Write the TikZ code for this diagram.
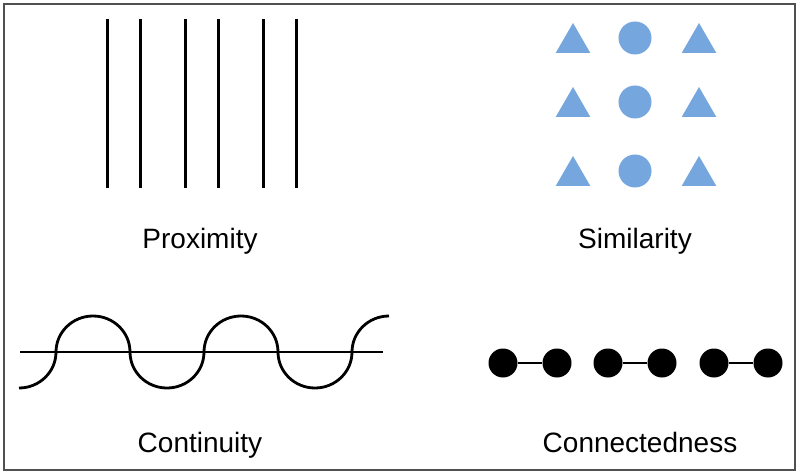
\documentclass[tikz,border=0pt]{standalone}
\usepackage{fontspec}
\setmainfont{Liberation Sans}
\usetikzlibrary{shapes.geometric}
\definecolor{shapeblue}{RGB}{118,166,222}
\definecolor{framegray}{RGB}{80,80,80}
\begin{document}
\begin{tikzpicture}[x=1pt,y=-1pt,
  bar/.style={line width=3pt,black},
  lbl/.style={font=\fontsize{28}{32}\selectfont,anchor=base,inner sep=0pt},
  tri/.style={regular polygon,regular polygon sides=3,fill=shapeblue,draw=none,minimum size=40pt,inner sep=0pt},
  circ/.style={circle,fill=shapeblue,draw=none,minimum size=33pt,inner sep=0pt},
  dot/.style={circle,fill=black,draw=none,minimum size=29pt,inner sep=0pt},
  wave/.style={line width=2.8pt,black}]
\useasboundingbox (0,0) rectangle (800,473);
\fill[white] (0,0) rectangle (800,473);
\draw[framegray,line width=2.5pt] (4,4) rectangle (795,470);
% Proximity
\foreach \i/\x in {1/107,2/140,3/185,4/218,5/263,6/296}{
  \coordinate (t\i) at (\x,19);
  \coordinate (b\i) at (\x,188);
  \draw[bar] (t\i) -- (b\i);
}
\node[lbl] (prox) at (200,248) {Proximity};
% Similarity
\foreach \r/\y/\cy in {1/43/38,2/107/102,3/176/171}{
  \node[tri] (ta\r) at (573,\y) {};
  \node[circ] (c\r) at (635,\cy) {};
  \node[tri] (tb\r) at (699,\y) {};
}
\node[lbl] (sim) at (635,248) {Similarity};
% Continuity
\coordinate (hl) at (20,352);
\coordinate (hr) at (383,352);
\draw[wave] (hl) -- (hr);
\coordinate (ws) at (19,388);
\draw[wave] (ws) arc[start angle=90,end angle=0,x radius=37,y radius=36]
  arc[start angle=180,end angle=360,x radius=37,y radius=36]
  arc[start angle=180,end angle=0,x radius=37,y radius=36]
  arc[start angle=180,end angle=360,x radius=37,y radius=36]
  arc[start angle=180,end angle=0,x radius=37,y radius=36]
  arc[start angle=180,end angle=270,x radius=37,y radius=36];
\node[lbl] (cont) at (200,452) {Continuity};
% Connectedness
\foreach \i/\x in {1/503,2/557,3/608,4/662,5/714,6/768}{
  \node[dot] (d\i) at (\x,363) {};
}
\draw[line width=2.5pt] (d1) -- (d2);
\draw[line width=2.5pt] (d3) -- (d4);
\draw[line width=2.5pt] (d5) -- (d6);
\node[lbl] (conn) at (640,452) {Connectedness};
\end{tikzpicture}
\end{document}
